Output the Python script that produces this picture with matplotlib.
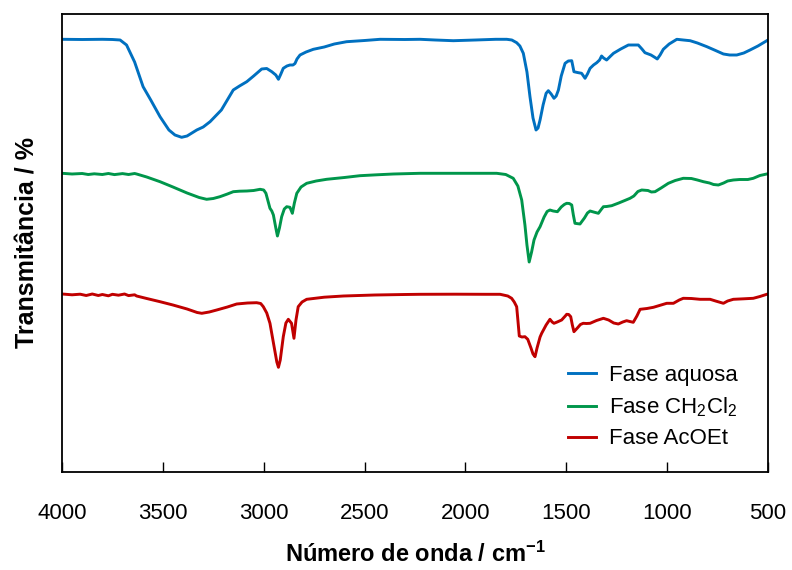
import numpy as np
import matplotlib
matplotlib.use('Agg')
import matplotlib.pyplot as plt

plt.rcParams['font.family'] = ['Liberation Sans', 'DejaVu Sans']
plt.rcParams['mathtext.fontset'] = 'custom'
plt.rcParams['mathtext.rm'] = 'Liberation Sans'
plt.rcParams['mathtext.bf'] = 'Liberation Sans:bold'
plt.rcParams['mathtext.default'] = 'regular'

# espectros IV (transmitancia, unidades arbitrarias, deslocados verticalmente)
wn_aq = [4000, 3900, 3800, 3750, 3712, 3680, 3640, 3598, 3560, 3514, 3470, 3440, 3407, 3380, 3332,
         3300, 3266, 3210, 3151, 3120, 3084, 3050, 3010, 2985, 2960, 2940, 2927, 2915, 2903, 2885,
         2870, 2855, 2845, 2835, 2820, 2790, 2754, 2700, 2650, 2589, 2500, 2423, 2300, 2225, 2150,
         2060, 1950, 1850, 1795, 1770, 1746, 1730, 1713, 1695, 1680, 1665, 1650, 1640, 1630, 1615,
         1600, 1589, 1575, 1561, 1550, 1539, 1525, 1506, 1490, 1473, 1462, 1445, 1424, 1407, 1395,
         1382, 1365, 1349, 1335, 1325, 1315, 1300, 1280, 1266, 1230, 1192, 1160, 1143, 1125, 1110,
         1080, 1060, 1049, 1035, 1019, 990, 952, 920, 886, 850, 803, 760, 721, 690, 655,
         620, 589, 550, 506, 500]
t_aq = [432.7, 432.5, 432.7, 432.5, 432, 427, 410, 385.3, 372, 355.3, 342, 337, 334.7, 336, 342,
        345, 350.3, 362, 382, 386, 390.3, 396, 403, 403.5, 400.3, 397, 392.7, 398, 403.7, 406,
        407, 407, 408.5, 413, 417, 420, 422.7, 425, 428, 430.3, 431.5, 432.7, 432.5, 432.7, 432,
        431.3, 432, 432.7, 432.7, 432, 429.3, 426, 418.7, 400, 375.3, 354, 342, 344, 352, 367,
        378.7, 381.3, 378, 373.7, 376, 382, 396, 408.7, 411, 411.3, 400.3, 399.5, 398.7, 393.7, 398,
        403.7, 407, 409.3, 412, 416, 414, 412, 416, 418.7, 423, 427, 427, 427, 423, 419.3,
        417, 414.5, 413, 417, 422.7, 428, 432.7, 432, 431.3, 429, 425.3, 421.5, 418, 417, 417,
        419, 422, 426, 431.3, 432]

wn_dcm = [4000, 3950, 3900, 3870, 3840, 3800, 3770, 3740, 3700, 3670, 3640, 3630, 3580, 3514, 3450,
          3380, 3320, 3283, 3250, 3217, 3180, 3151, 3120, 3084, 3050, 3018, 3000, 2989, 2969, 2960,
          2952, 2940, 2932, 2922, 2911, 2898, 2886, 2870, 2858, 2848, 2836, 2815, 2787, 2740, 2688,
          2600, 2523, 2440, 2357, 2225, 2100, 1950, 1845, 1800, 1763, 1740, 1721, 1705, 1695, 1684,
          1672, 1660, 1645, 1630, 1610, 1595, 1581, 1565, 1544, 1525, 1510, 1498, 1485, 1473, 1465,
          1457, 1432, 1410, 1395, 1382, 1365, 1341, 1325, 1316, 1300, 1275, 1240, 1210, 1184, 1165,
          1145, 1126, 1095, 1078, 1060, 1030, 994, 960, 920, 880, 850, 820, 790, 770, 746,
          720, 700, 672, 640, 600, 573, 540, 506, 500]
t_dcm = [298.7, 298, 298.5, 297.5, 298.2, 297.5, 298.5, 297.4, 298.4, 297.5, 298.5, 298, 295, 290.3, 285,
         279, 274.5, 272.7, 273.5, 275.3, 278, 280.3, 280.8, 281, 281.5, 282.7, 282, 278.7, 263.7, 261,
         257, 244, 236, 244, 255.3, 263, 265.3, 264.7, 258.7, 269, 278.7, 285, 288.7, 291, 292.7,
         294.5, 296.3, 297.2, 298, 298.7, 298.7, 298.7, 298.7, 297.5, 293.7, 286, 272, 247, 227, 210,
         220, 232, 240, 245.3, 255, 260.5, 262, 261, 260.3, 265, 267.5, 268.7, 268.5, 267, 257,
         248.7, 248, 254, 259, 261, 260, 258.7, 263, 265.3, 265.5, 266.3, 269, 271.5, 273.7, 276,
         280.5, 282, 281.5, 280, 280.3, 284, 288.7, 291.5, 293.7, 293.5, 292, 290.3, 289, 287.5, 287,
         289, 291, 292, 292.5, 292.5, 293.7, 296.5, 298, 298.2]

wn_acoet = [4000, 3950, 3910, 3880, 3850, 3820, 3800, 3770, 3750, 3720, 3690, 3670, 3640, 3630, 3580,
            3514, 3450, 3380, 3330, 3307, 3270, 3233, 3180, 3134, 3080, 3035, 3015, 3002, 2985, 2969,
            2950, 2935, 2927, 2918, 2903, 2890, 2878, 2862, 2850, 2840, 2829, 2810, 2787, 2700, 2605,
            2450, 2300, 2225, 2050, 1900, 1828, 1790, 1771, 1758, 1746, 1740, 1733, 1720, 1705, 1691,
            1675, 1665, 1655, 1645, 1630, 1622, 1600, 1581, 1570, 1561, 1545, 1523, 1505, 1498, 1488,
            1478, 1470, 1462, 1445, 1430, 1416, 1400, 1382, 1350, 1316, 1290, 1265, 1242, 1220, 1201,
            1185, 1168, 1150, 1134, 1100, 1068, 1030, 1002, 969, 940, 920, 880, 837, 787, 760,
            721, 700, 672, 620, 573, 540, 506, 500]
t_acoet = [178, 177.2, 177.8, 176.5, 178, 176.5, 177.5, 176.2, 177.7, 176.8, 178, 176.4, 177.2, 176, 173.5,
           170.3, 167, 163, 159.5, 158.7, 160, 162, 165, 168, 169, 169.3, 168.5, 165.3, 159, 148.7,
           127, 110, 104.7, 112, 135.3, 149, 152.7, 148.7, 133.7, 152, 165.3, 170, 172.7, 174.8, 176,
           177, 177.5, 177.7, 177.8, 177.7, 177.7, 176, 173.7, 170, 165.3, 152, 136, 135, 135.3, 132.7,
           124, 118, 115.3, 124, 135, 138.7, 147, 152.7, 150, 148.7, 150, 152, 156, 157.7, 157.5,
           155.3, 147, 140.3, 144, 147.5, 148.7, 148.5, 148.7, 151.5, 153.7, 152, 149, 148, 150, 151.3,
           150.5, 149.7, 156, 162.7, 163.5, 164.7, 167, 168.7, 168.7, 172, 173.7, 173.5, 172.7, 172.7, 171,
           168.7, 171, 172.7, 173.2, 173.7, 175.5, 177.7, 178]

series = [
    (wn_aq, t_aq, '#0070C0', 'Fase aquosa'),
    (wn_dcm, t_dcm, '#00964B', 'Fase CH$_2$Cl$_2$'),
    (wn_acoet, t_acoet, '#C00000', 'Fase AcOEt'),
]

fig = plt.figure(figsize=(7.92, 5.70), dpi=100)
ax = fig.add_axes([62 / 792, 1 - 472 / 570, 706 / 792, 458 / 570])

for wn, t, cor, nome in series:
    ax.plot(wn, t, color=cor, lw=2.1, label=nome, solid_joinstyle='round')

ax.set_xlim(4000, 500)
ax.set_ylim(0, 458)
ax.set_xticks(np.arange(4000, 499, -500))
ax.set_yticks([])
ax.tick_params(axis='x', direction='in', length=7, width=1, pad=22, labelsize=16)
for s in ax.spines.values():
    s.set_linewidth(1.3)

ax.set_xlabel('Número de onda / cm$^{\\mathbf{-1}}$', fontsize=17, fontweight='bold', labelpad=13)
ax.set_ylabel('Transmitância / %', fontsize=18, fontweight='bold', labelpad=16)

ax.legend(loc='lower right', bbox_to_anchor=(0.97, 0.03), frameon=False, fontsize=16,
          handlelength=1.25, handletextpad=0.6, labelspacing=0.42, borderaxespad=0)

fig.savefig('out.png', dpi=100)
